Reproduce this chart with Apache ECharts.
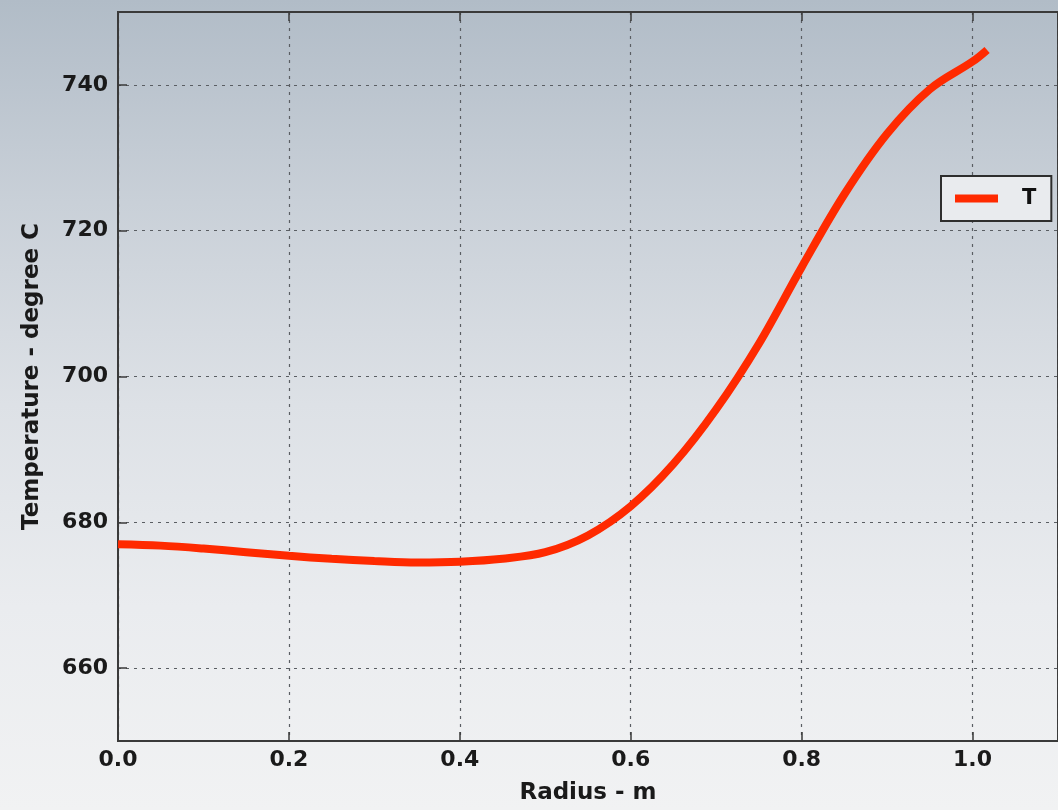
<!DOCTYPE html>
<html lang="en">
<head>
  <meta charset="UTF-8">
  <title>Temperature vs Radius</title>
  <script src="https://cdn.jsdelivr.net/npm/echarts@6/dist/echarts.min.js"></script>
  <style>
    html, body { margin: 0; padding: 0; }
    body {
      width: 1058px; height: 810px; overflow: hidden;
      background: linear-gradient(180deg, #b1bcc7 0%, #c9d0d8 25%, #dde1e6 50%, #eaecef 75%, #f1f2f3 100%);
    }
  </style>
</head>
<body>
<div id="main" style="width: 1058px; height: 810px"></div>
<script>

  // radius (m) and temperature (degree C)
  var radius = [0.0, 0.05, 0.10, 0.15, 0.20, 0.25, 0.30, 0.35, 0.40, 0.45, 0.50, 0.55,
                0.60, 0.65, 0.70, 0.75, 0.80, 0.85, 0.90, 0.95, 1.0, 1.017];
  var temperature = [677.0, 676.8, 676.4, 675.9, 675.4, 675.0, 674.7, 674.5, 674.6, 675.0, 675.9, 678.2,
                     682.2, 688.0, 695.5, 704.5, 715.0, 725.0, 733.3, 739.4, 743.2, 744.8];
  var yTicks = [660, 680, 700, 720, 740];
  var seriesName = 'T';
  var xName = 'Radius - m';
  var yName = 'Temperature - degree C';

  var font = 'DejaVu Sans';
  var chartDom = document.getElementById('main');
  var myChart = echarts.init(chartDom, null, { renderer: 'canvas' });

  var points = radius.map(function (r, i) { return [r, temperature[i]]; });

  var gridLine = { show: true, lineStyle: { color: '#5a5e63', width: 1.2, type: [3, 5] } };

  var option = {
    backgroundColor: 'transparent',
    animation: false,
    grid: {
      left: 118, top: 12, width: 948, height: 731,
      show: true, borderColor: '#3a3a3a', borderWidth: 2, backgroundColor: 'transparent'
    },
    legend: {
      left: 941, top: 176,
      data: [{ name: seriesName, icon: 'rect' }],
      itemWidth: 43, itemHeight: 8,
      padding: [12, 15, 12, 14],
      backgroundColor: '#e9ebee',
      borderColor: '#2e2e2e', borderWidth: 2,
      textStyle: {
        fontFamily: font, fontWeight: 'bold', fontSize: 21, color: '#111',
        padding: [0, 0, 0, 19]
      }
    },
    xAxis: [
      {
        type: 'value', min: 0, max: 1.1, interval: 0.2,
        name: xName, nameLocation: 'middle', nameGap: 41,
        nameTextStyle: { fontFamily: font, fontWeight: 'bold', fontSize: 23, color: '#1a1a1a' },
        axisLine: { show: true, lineStyle: { color: '#3a3a3a', width: 2 } },
        axisTick: { show: true, inside: true, length: 9, lineStyle: { color: '#3a3a3a', width: 1.5 } },
        axisLabel: {
          fontFamily: font, fontWeight: 'bold', fontSize: 22, color: '#1a1a1a', margin: 8,
          showMaxLabel: false,
          formatter: function (v) { return v.toFixed(1); }
        },
        splitLine: gridLine
      },
      {
        type: 'value', position: 'top', min: 0, max: 1.1, interval: 0.2,
        axisLine: { show: true, lineStyle: { color: '#3a3a3a', width: 2 } },
        axisTick: { show: true, inside: true, length: 9, lineStyle: { color: '#3a3a3a', width: 1.5 } },
        axisLabel: { show: false },
        splitLine: { show: false }
      }
    ],
    yAxis: {
      type: 'value', min: 650, max: 750,
      name: yName, nameLocation: 'middle', nameGap: 74,
      nameTextStyle: { fontFamily: font, fontWeight: 'bold', fontSize: 23, color: '#1a1a1a' },
      axisLine: { show: true, lineStyle: { color: '#3a3a3a', width: 2 } },
      axisTick: {
        show: true, inside: true, length: 9, customValues: yTicks,
        lineStyle: { color: '#3a3a3a', width: 1.5 }
      },
      axisLabel: {
        fontFamily: font, fontWeight: 'bold', fontSize: 22, color: '#1a1a1a', margin: 10,
        customValues: yTicks
      },
      splitLine: gridLine
    },
    series: [
      {
        name: seriesName,
        type: 'line',
        data: points,
        smooth: 0.35,
        showSymbol: false,
        color: '#ff2a00',
        lineStyle: { color: '#ff2a00', width: 8, cap: 'butt' }
      }
    ]
  };
  option && myChart.setOption(option);

</script>
</body>
</html>
